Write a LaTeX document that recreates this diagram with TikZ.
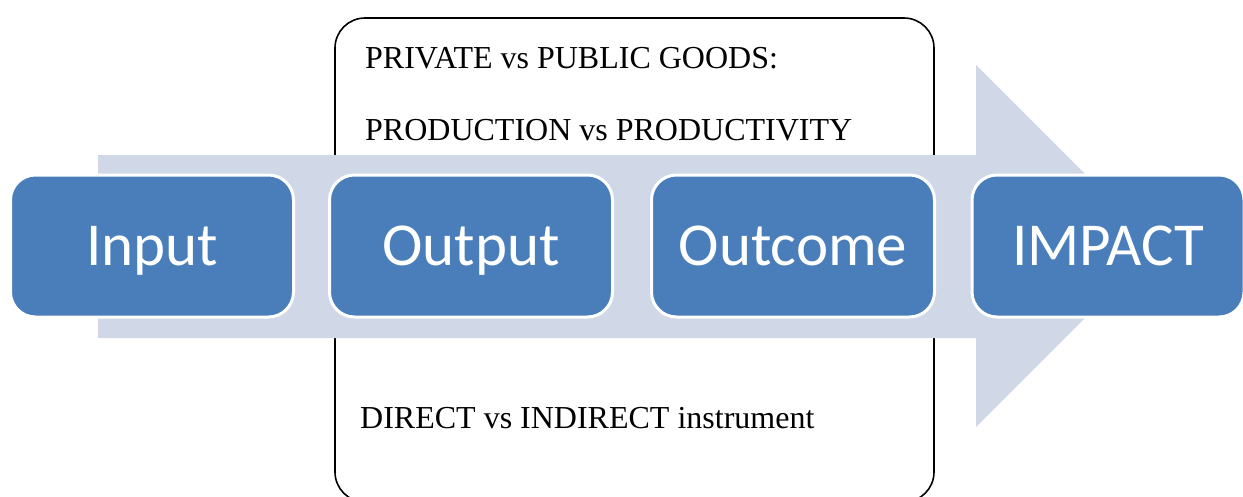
\documentclass[tikz,border=0pt]{standalone}
\usepackage{fontspec}
\setmainfont{Liberation Serif}
\newfontfamily\stagefont{Carlito}
\usepackage{tikz}
\definecolor{stageblue}{HTML}{4A7EBB}
\definecolor{flowgray}{HTML}{D0D8E8}
\tikzset{
	stage/.style={draw=white, line width=3pt, fill=stageblue, rounded corners=25pt,
		minimum width=283pt, minimum height=142pt, text=white,
		text height=44pt, text depth=6pt,
		font=\stagefont\fontsize{61}{66}\selectfont},
	notetext/.style={anchor=base west, inner sep=0pt, font=\fontsize{32}{38}\selectfont},
}

\begin{document}
\begin{tikzpicture}[x=1pt, y=-1pt]
			%%%%% START %%%%%
			\useasboundingbox (0, 0) rectangle (1243, 496);
			
			\draw[line width=1.6pt, rounded corners=30pt, fill=white] (335, 18) rectangle (934, 502);
			
			\node[notetext] (goods) at (365, 68) {PRIVATE vs PUBLIC GOODS:};
			\node[notetext] (prod) at (365, 140) {PRODUCTION vs PRODUCTIVITY};
			\node[notetext] (instr) at (360, 428) {DIRECT vs INDIRECT instrument};
			
			\fill[flowgray] (98, 155) -- (976, 155) -- (976, 65) -- (1157, 246) -- (976, 427) -- (976, 338) -- (98, 338) -- cycle;
			
			\node[stage] (input) at (152, 246) {Input};
			\node[stage] (output) at (471, 246) {Output};
			\node[stage] (outcome) at (793, 246) {Outcome};
			\node[stage, minimum width=272pt] (impact) at (1108, 246) {IMPACT};
			
			%%%%% END %%%%%
\end{tikzpicture}
\end{document}
